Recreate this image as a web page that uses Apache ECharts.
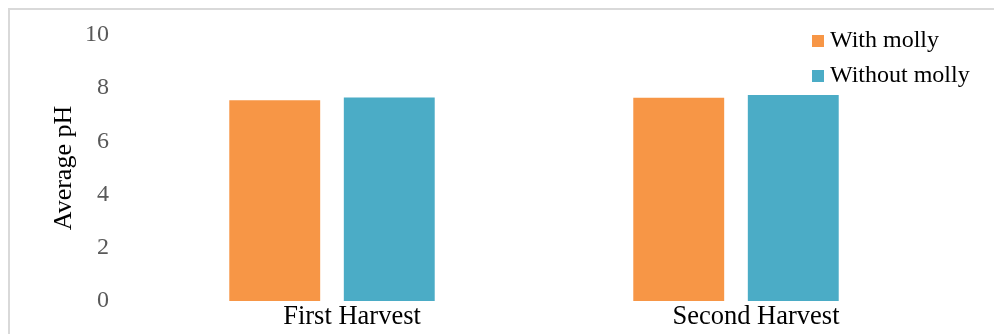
<!DOCTYPE html>
<html>
<head>
<meta charset="utf-8">
<script src="https://cdn.jsdelivr.net/npm/echarts@6/dist/echarts.min.js"></script>
<style>
  html, body { margin: 0; padding: 0; background: #fff; }
  #chart { width: 994px; height: 334px; }
</style>
</head>
<body>
<div id="chart"></div>
<script>
// Average pH per harvest, with and without molly fish
const categories = ['First Harvest', 'Second Harvest'];
const withMolly = [7.55, 7.64];
const withoutMolly = [7.65, 7.74];
const yTicks = [0, 2, 4, 6, 8, 10];

const FONT = "'Liberation Serif', 'Times New Roman', serif";

const chart = echarts.init(document.getElementById('chart'));
chart.setOption({
  animation: false,
  backgroundColor: '#ffffff',
  textStyle: { fontFamily: FONT },
  graphic: [{
    type: 'rect',
    shape: { x: 9, y: 9, width: 1000, height: 400 },
    style: { fill: 'none', stroke: '#d9d9d9', lineWidth: 2 },
    silent: true
  }],
  legend: {
    orient: 'vertical',
    left: 812,
    top: 29,
    padding: 0,
    itemWidth: 12,
    itemHeight: 12,
    itemGap: 11,
    icon: 'rect',
    textStyle: { fontFamily: FONT, fontSize: 24, color: '#000', lineHeight: 24, padding: [0, 0, 0, 1] },
    data: ['With molly', 'Without molly']
  },
  grid: { left: 130, right: 56, top: 35, bottom: 33, containLabel: false },
  xAxis: {
    type: 'category',
    data: categories,
    axisLine: { show: false },
    axisTick: { show: false },
    axisLabel: {
      fontFamily: FONT, fontSize: 26.5, color: '#000', margin: 3,
      padding: [0, 0, 0, 40]
    }
  },
  yAxis: {
    type: 'value',
    min: yTicks[0],
    max: yTicks[yTicks.length - 1],
    interval: 2,
    name: 'Average pH',
    nameLocation: 'middle',
    nameGap: 53,
    nameMoveOverlap: false,
    nameTextStyle: { fontFamily: FONT, fontSize: 26, color: '#000' },
    axisLine: { show: false },
    axisTick: { show: false },
    splitLine: { show: false },
    axisLabel: { fontFamily: FONT, fontSize: 24, color: '#595959', margin: 21 }
  },
  series: [
    {
      name: 'With molly',
      type: 'bar',
      data: withMolly,
      barWidth: '22.5%',
      barGap: '26%',
      itemStyle: { color: '#F79646' }
    },
    {
      name: 'Without molly',
      type: 'bar',
      data: withoutMolly,
      barWidth: '22.5%',
      barGap: '26%',
      itemStyle: { color: '#4BACC6' }
    }
  ]
});
</script>
</body>
</html>
